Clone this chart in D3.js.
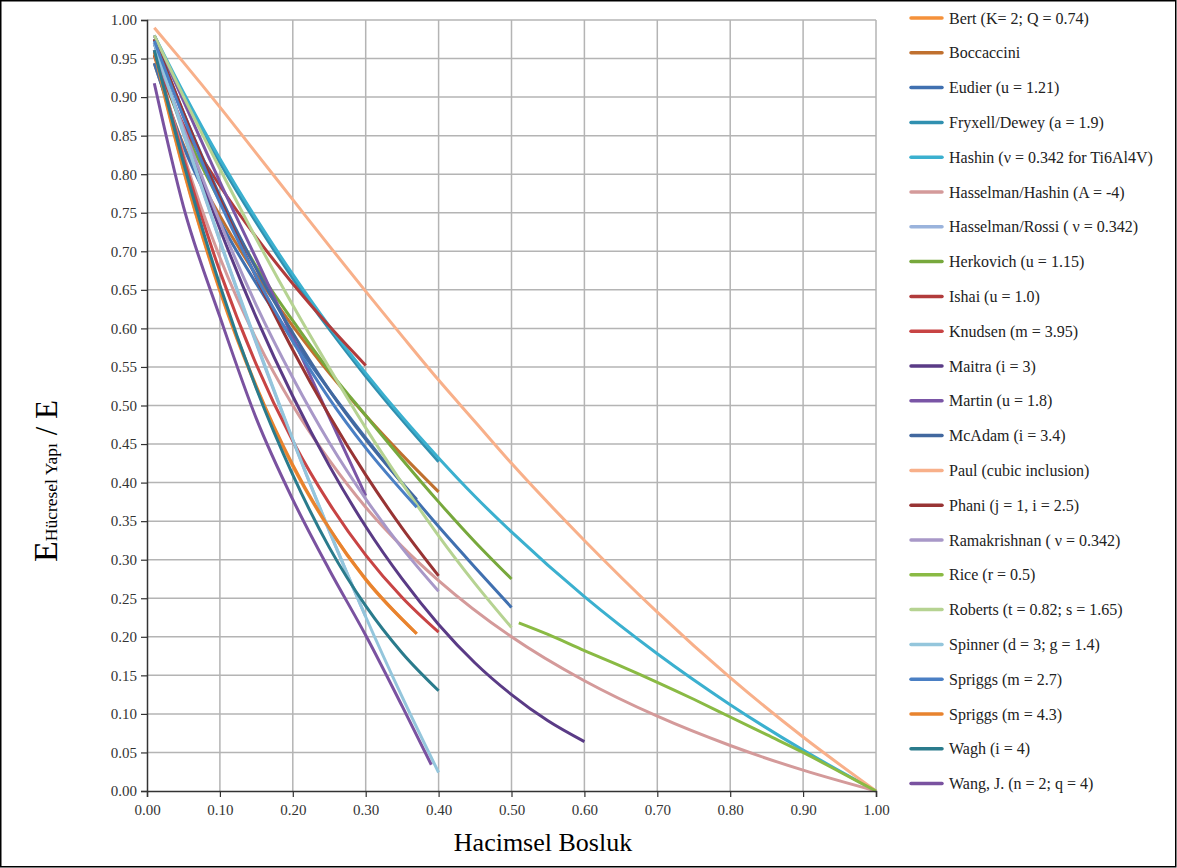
<!DOCTYPE html>
<html>
<head>
<meta charset="utf-8">
<script src="https://cdn.jsdelivr.net/npm/d3@7"></script>
<style>
  body { margin: 0; background: #fff; }
  svg { display: block; }
  text { font-family: "Liberation Serif", "Times New Roman", serif; }
</style>
</head>
<body>
<svg id="chart" width="1177" height="868"></svg>
<script>
// series names in legend order
var seriesNames = [
    'Bert (K= 2; Q = 0.74)', 'Boccaccini', 'Eudier (u = 1.21)', 'Fryxell/Dewey (a = 1.9)',
    'Hashin (\u03bd = 0.342 for Ti6Al4V)', 'Hasselman/Hashin (A = -4)', 'Hasselman/Rossi ( \u03bd = 0.342)',
    'Herkovich (u = 1.15)', 'Ishai (u = 1.0)', 'Knudsen (m = 3.95)', 'Maitra (i = 3)', 'Martin (u = 1.8)',
    'McAdam (i = 3.4)', 'Paul (cubic inclusion)', 'Phani (j = 1, i = 2.5)', 'Ramakrishnan ( \u03bd = 0.342)',
    'Rice (r = 0.5)', 'Roberts (t = 0.82; s = 1.65)', 'Spinner (d = 3; g = 1.4)', 'Spriggs (m = 2.7)',
    'Spriggs (m = 4.3)', 'Wagh (i = 4)', 'Wang, J. (n = 2; q = 4)'
];

// [porosity, E/E0]
var bert = [[0.01, 0.955], [0.05, 0.805], [0.1, 0.648], [0.15, 0.523], [0.2, 0.421], [0.25, 0.34], [0.3, 0.274], [0.37, 0.204]];
var boccaccini = [[0.01, 0.944], [0.05, 0.838], [0.1, 0.746], [0.15, 0.669], [0.2, 0.603], [0.25, 0.542], [0.3, 0.487], [0.35, 0.436], [0.4, 0.388]];
var eudier = [[0.01, 0.944], [0.05, 0.836], [0.1, 0.739], [0.15, 0.658], [0.2, 0.586], [0.25, 0.52], [0.3, 0.458], [0.35, 0.399], [0.4, 0.343], [0.45, 0.29], [0.5, 0.238]];
var fryxell = [[0.01, 0.975], [0.05, 0.9], [0.1, 0.815], [0.15, 0.737], [0.2, 0.665], [0.25, 0.599], [0.3, 0.538], [0.35, 0.481], [0.4, 0.427]];
var hashin = [[0.01, 0.98], [0.05, 0.906], [0.1, 0.82], [0.15, 0.742], [0.2, 0.67], [0.25, 0.603], [0.3, 0.542], [0.35, 0.485], [0.4, 0.432], [0.45, 0.382], [0.5, 0.336], [0.6, 0.252], [0.7, 0.178], [0.8, 0.112], [0.9, 0.053], [1.0, 0]];
var hasselmanHashin = [[0.01, 0.961], [0.05, 0.826], [0.1, 0.692], [0.15, 0.586], [0.2, 0.5], [0.25, 0.429], [0.3, 0.368], [0.35, 0.317], [0.4, 0.273], [0.5, 0.2], [0.6, 0.143], [0.7, 0.097], [0.8, 0.059], [0.9, 0.027], [1.0, 0]];
var hasselmanRossi = [[0.01, 0.969], [0.05, 0.852], [0.1, 0.713], [0.15, 0.58], [0.2, 0.455], [0.25, 0.337], [0.3, 0.226]];
var herkovich = [[0.01, 0.955], [0.05, 0.86], [0.1, 0.765], [0.15, 0.68], [0.2, 0.61], [0.25, 0.545], [0.3, 0.487], [0.35, 0.43], [0.4, 0.375], [0.45, 0.323], [0.5, 0.275]];
var ishai = [[0.01, 0.954], [0.05, 0.864], [0.1, 0.785], [0.15, 0.718], [0.2, 0.658], [0.25, 0.603], [0.3, 0.552]];
var knudsen = [[0.01, 0.961], [0.05, 0.821], [0.1, 0.674], [0.15, 0.553], [0.2, 0.454], [0.25, 0.373], [0.3, 0.306], [0.35, 0.251], [0.4, 0.206]];
var maitra = [[0.01, 0.97], [0.05, 0.857], [0.1, 0.729], [0.15, 0.614], [0.2, 0.512], [0.25, 0.422], [0.3, 0.343], [0.35, 0.275], [0.4, 0.216], [0.45, 0.166], [0.5, 0.125], [0.55, 0.091], [0.6, 0.064]];
var martin = [[0.01, 0.98], [0.05, 0.895], [0.1, 0.79], [0.15, 0.69], [0.2, 0.588], [0.25, 0.485], [0.3, 0.383]];
var mcadam = [[0.01, 0.975], [0.05, 0.88], [0.1, 0.772], [0.15, 0.677], [0.2, 0.594], [0.25, 0.52], [0.3, 0.456], [0.37, 0.378]];
var paul = [[0.01, 0.99], [0.05, 0.945], [0.1, 0.887], [0.15, 0.827], [0.2, 0.767], [0.25, 0.707], [0.3, 0.648], [0.35, 0.59], [0.4, 0.533], [0.45, 0.479], [0.5, 0.425], [0.6, 0.325], [0.7, 0.232], [0.8, 0.147], [0.9, 0.07], [1.0, 0]];
var phani = [[0.01, 0.975], [0.05, 0.88], [0.1, 0.768], [0.15, 0.666], [0.2, 0.572], [0.25, 0.487], [0.3, 0.41], [0.35, 0.341], [0.4, 0.279]];
var ramakrishnan = [[0.01, 0.961], [0.05, 0.86], [0.1, 0.738], [0.15, 0.63], [0.2, 0.536], [0.25, 0.452], [0.3, 0.379], [0.35, 0.315], [0.4, 0.259]];
var rice = [[0.51, 0.218], [0.55, 0.203], [0.6, 0.182], [0.65, 0.162], [0.7, 0.141], [0.75, 0.119], [0.8, 0.096], [0.85, 0.073], [0.9, 0.05], [0.95, 0.025], [1.0, 0]];
var roberts = [[0.01, 0.98], [0.05, 0.901], [0.1, 0.807], [0.15, 0.716], [0.2, 0.63], [0.25, 0.549], [0.3, 0.471], [0.35, 0.399], [0.4, 0.331], [0.45, 0.269], [0.5, 0.212]];
var spinner = [[0.01, 0.97], [0.05, 0.854], [0.1, 0.714], [0.15, 0.582], [0.2, 0.456], [0.25, 0.338], [0.3, 0.226], [0.35, 0.122], [0.4, 0.024]];
var spriggs27 = [[0.01, 0.973], [0.05, 0.874], [0.1, 0.763], [0.15, 0.667], [0.2, 0.583], [0.25, 0.509], [0.3, 0.445], [0.37, 0.368]];
var spriggs43 = [[0.01, 0.958], [0.05, 0.807], [0.1, 0.65], [0.15, 0.525], [0.2, 0.423], [0.25, 0.341], [0.3, 0.275], [0.37, 0.204]];
var wagh = [[0.01, 0.961], [0.05, 0.815], [0.1, 0.656], [0.15, 0.522], [0.2, 0.41], [0.25, 0.316], [0.3, 0.24], [0.35, 0.179], [0.4, 0.13]];
var wang = [[0.01, 0.918], [0.05, 0.758], [0.1, 0.615], [0.15, 0.483], [0.2, 0.378], [0.25, 0.287], [0.3, 0.202], [0.35, 0.11], [0.39, 0.034]];

var seriesValues = [bert, boccaccini, eudier, fryxell, hashin, hasselmanHashin, hasselmanRossi,
    herkovich, ishai, knudsen, maitra, martin, mcadam, paul, phani, ramakrishnan,
    rice, roberts, spinner, spriggs27, spriggs43, wagh, wang];

var lineColors = ['#f5913a', '#c0702f', '#4070b0', '#3090b0', '#3bb0cf', '#d49a9a', '#9ab3dc',
    '#77a83c', '#b13b3b', '#c84444', '#5a3b86', '#7a55a6', '#42689f', '#f8b08a', '#983434',
    '#a898c8', '#8aba44', '#b6d392', '#94c6dc', '#4a7fc4', '#e8832e', '#2a7b8c', '#7a52a0'];

var xTicks = d3.range(0, 11).map((i) => i / 10);
var yTicks = d3.range(0, 21).map((i) => i / 20);

var svg = d3.select('#chart');
svg.append('rect').attr('width', 1177).attr('height', 868).attr('fill', '#fff');
svg.append('rect')
    .attr('x', 0.75).attr('y', 0.75).attr('width', 1175).attr('height', 866)
    .attr('fill', 'none').attr('stroke', '#000').attr('stroke-width', 1.5);

var plotLeft = 147, plotTop = 20, plotRight = 876, plotBottom = 791;
var xScale = d3.scaleLinear().domain([0, 1]).range([plotLeft, plotRight]),
    yScale = d3.scaleLinear().domain([0, 1]).range([plotBottom, plotTop]);

// grid
var grid = svg.append('g');
grid.selectAll('.gx').data(xTicks.slice(1)).enter().append('line')
    .attr('x1', (d) => xScale(d)).attr('x2', (d) => xScale(d))
    .attr('y1', plotTop).attr('y2', plotBottom)
    .attr('stroke', '#b4b4b4').attr('stroke-width', 1.5);
grid.selectAll('.gy').data(yTicks.slice(1)).enter().append('line')
    .attr('x1', plotLeft).attr('x2', plotRight)
    .attr('y1', (d) => yScale(d)).attr('y2', (d) => yScale(d))
    .attr('stroke', '#b4b4b4').attr('stroke-width', 1.5);

// lines
var line = d3.line()
    .x((d) => xScale(d[0]))
    .y((d) => yScale(d[1]))
    .curve(d3.curveMonotoneX);

svg.append('g').selectAll('path')
    .data(seriesValues)
    .enter()
    .append('path')
    .attr('d', line)
    .attr('fill', 'none')
    .attr('stroke', (d, i) => lineColors[i])
    .attr('stroke-width', 3)
    .attr('stroke-linejoin', 'round');

// axes
var xAxis = svg.append('g')
    .attr('transform', 'translate(0,' + plotBottom + ')')
    .call(d3.axisBottom(xScale).tickValues(xTicks).tickFormat(d3.format('.2f')).tickSizeOuter(0).tickSize(6));
var yAxis = svg.append('g')
    .attr('transform', 'translate(' + plotLeft + ',0)')
    .call(d3.axisLeft(yScale).tickValues(yTicks).tickFormat(d3.format('.2f')).tickSizeOuter(0).tickSize(6));

[xAxis, yAxis].forEach(function (a) {
    a.select('.domain').attr('stroke', '#333').attr('stroke-width', 1.5);
    a.selectAll('.tick line').attr('stroke', '#333').attr('stroke-width', 1.2);
    a.selectAll('.tick text')
        .attr('fill', '#333')
        .style('font-family', '"Liberation Serif", "Times New Roman", serif')
        .style('font-size', '15px');
});
xAxis.selectAll('.tick text').attr('dy', '1.0em');
yAxis.selectAll('.tick text').attr('x', -10);

// axis titles
svg.append('text')
    .attr('x', 543).attr('y', 851)
    .attr('text-anchor', 'middle')
    .style('font-size', '26px')
    .text('Hacimsel Bosluk');

var yt = svg.append('text')
    .attr('transform', 'translate(57,481) rotate(-90)')
    .attr('text-anchor', 'middle');
yt.append('tspan').style('font-size', '34px').text('E');
yt.append('tspan').style('font-size', '17.5px').text('H\u00fccresel Yap\u0131');
yt.append('tspan').style('font-size', '31px').text(' / E');

// legend
var legend = svg.append('g');
var rows = legend.selectAll('g')
    .data(seriesNames)
    .enter()
    .append('g')
    .attr('transform', (d, i) => 'translate(0,' + (18 + i * 34.8) + ')');
rows.append('line')
    .attr('x1', 911).attr('x2', 942)
    .attr('stroke', (d, i) => lineColors[i])
    .attr('stroke-width', 3.5)
    .attr('stroke-linecap', 'round');
rows.append('text')
    .attr('x', 949).attr('dy', '0.35em')
    .style('font-size', '16px')
    .attr('fill', '#222')
    .text((d) => d);
</script>
</body>
</html>
